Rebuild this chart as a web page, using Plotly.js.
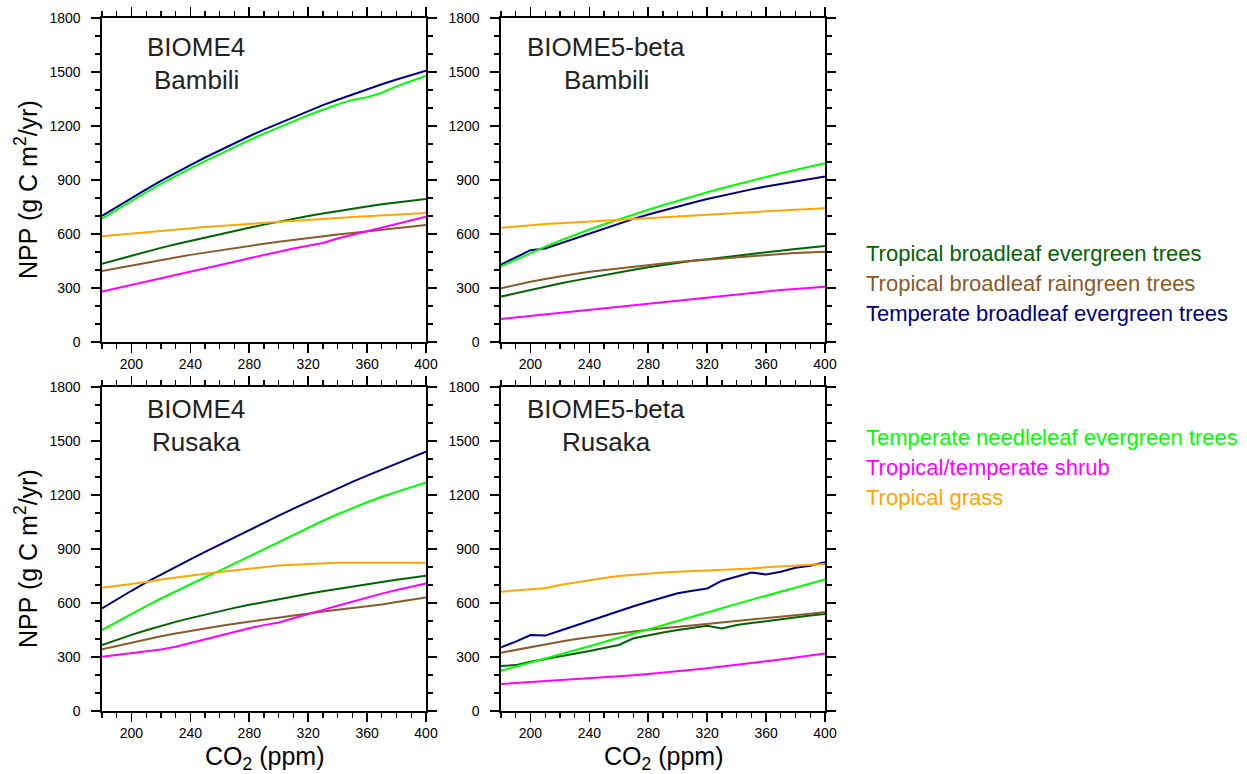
<!DOCTYPE html>
<html>
<head>
<meta charset="utf-8">
<script src="https://cdn.plot.ly/plotly-3.0.1.min.js"></script>
<style>html,body{margin:0;padding:0;background:#fff;}#chart{width:1247px;height:774px;}</style>
</head>
<body>
<div id="chart"></div>
<script>
// ---- data ----
const co2 = [180,190,200,210,220,230,240,250,260,270,280,290,300,310,320,330,340,350,360,370,380,390,400];

const pftNames = [
  "Tropical broadleaf evergreen trees",
  "Tropical broadleaf raingreen trees",
  "Temperate broadleaf evergreen trees",
  "Temperate needleleaf evergreen trees",
  "Tropical/temperate shrub",
  "Tropical grass"
];
const pftColors = ["#006400", "#8B5A2B", "#000080", "#00FF00", "#FF00FF", "#FFA500"];

const panelTitles = [["BIOME4", "Bambili"], ["BIOME5-beta", "Bambili"], ["BIOME4", "Rusaka"], ["BIOME5-beta", "Rusaka"]];

// BIOME4 Bambili
const b4Bam_tbe  = [435,458,480,502,523,543,562,581,599,617,635,652,669,685,700,714,728,741,753,765,776,786,795];
const b4Bam_trg  = [394,410,425,441,456,470,484,497,510,523,535,546,557,568,578,588,597,606,615,624,633,642,650];
const b4Bam_tmbe = [700,750,800,848,895,940,983,1025,1065,1105,1143,1180,1215,1250,1284,1316,1346,1376,1405,1432,1458,1483,1507];
const b4Bam_tmne = [685,735,785,832,878,922,964,1005,1045,1085,1122,1158,1193,1227,1260,1290,1320,1345,1360,1385,1420,1450,1478];
const b4Bam_shrub= [280,298,317,335,352,371,390,408,427,446,465,484,502,520,535,550,575,595,615,635,655,676,696];
const b4Bam_grass= [587,595,603,611,618,625,632,639,645,651,657,663,668,674,679,684,689,694,698,703,708,713,717];

// BIOME5-beta Bambili
const b5Bam_tbe  = [252,271,290,308,325,341,357,372,387,401,415,428,441,451,460,470,480,490,500,509,517,525,533];
const b5Bam_trg  = [298,317,335,350,365,378,390,400,410,419,428,436,444,451,458,465,472,478,484,489,494,498,502];
const b5Bam_tmbe = [430,470,510,520,548,576,604,632,659,684,708,731,753,774,794,813,831,848,864,879,893,907,920];
const b5Bam_tmne = [420,458,495,530,563,595,625,654,682,709,735,760,785,809,832,854,876,897,917,937,956,975,993];
const b5Bam_shrub= [128,136,145,153,162,170,178,187,195,203,212,221,230,239,248,257,266,274,282,289,295,301,307];
const b5Bam_grass= [635,643,650,655,660,665,670,675,680,685,690,695,700,705,710,714,718,723,727,731,735,739,743];

// BIOME4 Rusaka
const b4Rus_tbe  = [367,396,423,449,473,495,516,536,555,573,590,606,621,636,651,665,679,692,705,717,729,741,752];
const b4Rus_trg  = [343,362,380,398,415,430,445,459,472,485,497,509,520,532,543,553,562,571,580,592,605,618,630];
const b4Rus_tmbe = [570,620,668,714,758,800,842,884,925,965,1005,1045,1085,1124,1162,1200,1237,1273,1308,1342,1376,1409,1441];
const b4Rus_tmne = [450,495,540,583,625,665,705,743,780,820,860,900,940,980,1020,1057,1093,1127,1160,1190,1218,1244,1269];
const b4Rus_shrub= [302,312,322,332,342,357,378,400,420,440,460,477,492,515,540,562,585,608,632,652,672,690,709];
const b4Rus_grass= [685,695,705,717,730,742,752,762,772,782,792,802,808,813,818,822,824,824,824,824,824,824,824];

// BIOME5-beta Rusaka
const b5Rus_tbe  = [250,255,274,288,302,318,333,350,367,404,422,436,450,462,474,459,478,489,500,510,520,530,539];
const b5Rus_trg  = [324,340,355,370,385,398,410,421,432,442,452,460,468,476,483,491,498,507,515,524,532,540,548];
const b5Rus_tmbe = [354,385,422,419,446,474,502,530,557,582,607,631,654,668,681,724,746,769,759,774,796,807,826];
const b5Rus_tmne = [224,246,268,291,313,337,360,383,406,430,453,477,500,524,547,571,595,618,640,663,686,709,731];
const b5Rus_shrub= [150,155,160,165,170,175,180,186,192,198,205,212,220,229,238,247,256,265,275,286,297,308,320];
const b5Rus_grass= [663,670,676,682,700,714,728,739,750,758,765,770,774,777,780,783,787,792,798,802,807,812,817];

const yTickVals = [0,300,600,900,1200,1500,1800];
const xTickVals = [200,240,280,320,360,400];

// ---- build ----
const panels = [
  [b4Bam_tbe,b4Bam_trg,b4Bam_tmbe,b4Bam_tmne,b4Bam_shrub,b4Bam_grass],
  [b5Bam_tbe,b5Bam_trg,b5Bam_tmbe,b5Bam_tmne,b5Bam_shrub,b5Bam_grass],
  [b4Rus_tbe,b4Rus_trg,b4Rus_tmbe,b4Rus_tmne,b4Rus_shrub,b4Rus_grass],
  [b5Rus_tbe,b5Rus_trg,b5Rus_tmbe,b5Rus_tmne,b5Rus_shrub,b5Rus_grass]
];

const W = 1247, H = 774;
const px = x => x / W;
const py = y => 1 - y / H;

// panel boxes in pixels [left, right, top, bottom]
const boxes = [[102,426,18,342],[501,825,18,342],[102,426,387,711],[501,825,387,711]];
// label centres relative to panel [dx, dy line1, dy line2]
const labelPos = [[94,29,62],[105,29,62],[94,22,55],[105,22,55]];
const FONT = "Liberation Sans, Arial, Helvetica, sans-serif";

const traces = [];
const layout = {
  width: W, height: H,
  margin: {l:0, r:0, t:0, b:0},
  paper_bgcolor: "#ffffff", plot_bgcolor: "#ffffff",
  showlegend: false,
  font: {family: FONT, color: "#000"},
  annotations: []
};

panels.forEach((series, i) => {
  const n = i + 1;
  const xa = n === 1 ? "x" : "x" + n;
  const ya = n === 1 ? "y" : "y" + n;
  series.forEach((vals, k) => {
    traces.push({
      x: co2, y: vals, type: "scatter", mode: "lines",
      xaxis: xa, yaxis: ya, name: pftNames[k],
      line: {color: pftColors[k], width: 2},
      hoverinfo: "skip"
    });
  });
  const b = boxes[i];
  const axCommon = {
    showline: true, linecolor: "#000", linewidth: 1.6, mirror: "allticks",
    ticks: "outside", ticklen: 9, tickwidth: 1.6, tickcolor: "#000",
    showgrid: false, zeroline: false, automargin: false,
    tickfont: {family: FONT, size: 14, color: "#000"},
    fixedrange: true
  };
  layout["xaxis" + (n === 1 ? "" : n)] = Object.assign({}, axCommon, {
    domain: [px(b[0]), px(b[1])], anchor: ya,
    range: [180, 400], tickmode: "array", tickvals: xTickVals,
    ticklabelstandoff: 0,
    minor: {dtick: 10, tick0: 180, ticks: "outside", ticklen: 5, tickwidth: 1.2, tickcolor: "#000", showgrid: false}
  });
  layout["yaxis" + (n === 1 ? "" : n)] = Object.assign({}, axCommon, {
    domain: [py(b[3]), py(b[2])], anchor: xa,
    range: [0, 1800], tickmode: "array", tickvals: yTickVals,
    ticklabelstandoff: 8,
    minor: {dtick: 100, tick0: 0, ticks: "outside", ticklen: 5, tickwidth: 1.2, tickcolor: "#000", showgrid: false}
  });
  // panel labels
  const lp = labelPos[i];
  layout.annotations.push({
    xref: "paper", yref: "paper", x: px(b[0] + lp[0]), y: py(b[2] + lp[1]),
    text: panelTitles[i][0], showarrow: false, xanchor: "center", yanchor: "middle",
    font: {family: FONT, size: 26, color: "#222"}
  });
  layout.annotations.push({
    xref: "paper", yref: "paper", x: px(b[0] + lp[0]), y: py(b[2] + lp[2]),
    text: panelTitles[i][1], showarrow: false, xanchor: "center", yanchor: "middle",
    font: {family: FONT, size: 26, color: "#222"}
  });
});

// y titles (left column)
[190, 559].forEach(yc => {
  layout.annotations.push({
    xref: "paper", yref: "paper", x: px(26), y: py(yc), textangle: -90,
    text: "NPP (g C m<sup>2</sup>/yr)", showarrow: false, xanchor: "center", yanchor: "middle",
    font: {family: FONT, size: 25, color: "#000"}
  });
});
// x titles (bottom row)
[264, 663].forEach(xc => {
  layout.annotations.push({
    xref: "paper", yref: "paper", x: px(xc), y: py(758),
    text: "CO<sub>2</sub> (ppm)", showarrow: false, xanchor: "center", yanchor: "middle",
    font: {family: FONT, size: 25, color: "#000"}
  });
});

// legend text
const legendY = [253, 283, 313, 437, 467, 497];
pftNames.forEach((nm, k) => {
  layout.annotations.push({
    xref: "paper", yref: "paper", x: px(864), y: py(legendY[k]),
    text: nm, showarrow: false, xanchor: "left", yanchor: "middle",
    font: {family: FONT, size: 22, color: pftColors[k]}
  });
});

Plotly.newPlot("chart", traces, layout, {staticPlot: true, displayModeBar: false});
</script>
</body>
</html>
